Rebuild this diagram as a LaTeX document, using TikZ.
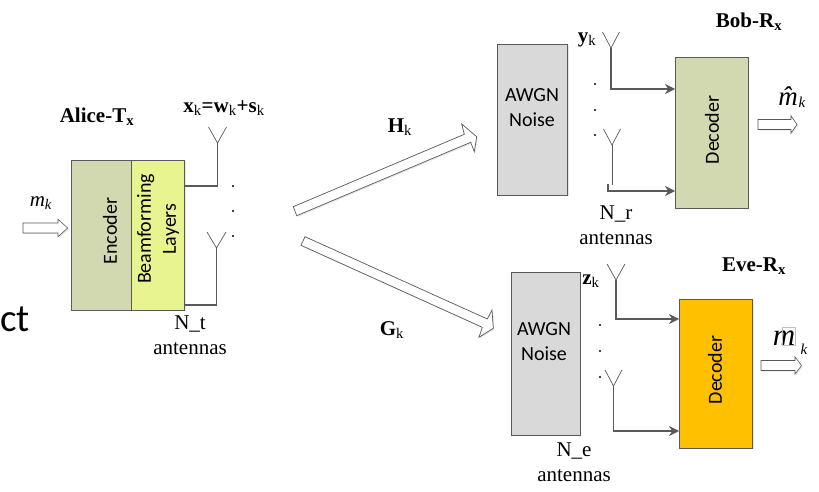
\documentclass[tikz,border=0pt]{standalone}
\usepackage{amsmath,amssymb}
\usepackage{fontspec}
\setmainfont{Liberation Serif}
\newfontfamily\boxfont{Carlito}
\usetikzlibrary{shadows,arrows.meta}
\definecolor{olivebox}{HTML}{D2D8B0}
\definecolor{yellowbox}{HTML}{E8F48F}
\definecolor{greybox}{HTML}{D9D9D9}
\definecolor{orangebox}{HTML}{FFC000}
\definecolor{edgegrey}{HTML}{595959}
\begin{document}
\begin{tikzpicture}[x=1pt,y=-1pt,
    txt/.style={font=\fontsize{21}{24}\selectfont,inner sep=0pt,align=center},
    boxtxt/.style={font=\boxfont\fontsize{20}{25}\selectfont,inner sep=0pt,align=center},
    block/.style={draw=edgegrey,line width=0.9pt,inner sep=0pt,outer sep=0pt,
      drop shadow={shadow xshift=1.2pt,shadow yshift=-1.2pt,opacity=0.2}},
    wire/.style={draw=edgegrey,line width=1.1pt},
    arrowin/.style={wire,-{Stealth[length=10pt,width=10pt]}},
    aerial/.style={draw=edgegrey,line width=0.7pt},
    fat/.style={draw=edgegrey,fill=white,line width=0.7pt,
      drop shadow={shadow xshift=1.2pt,shadow yshift=-1.2pt,opacity=0.2}}]
  \useasboundingbox (0,0) rectangle (819,492);
  % transmitter
  \node[block,fill=olivebox,minimum width=59.5pt,minimum height=150pt] (enc) at (101.25,235) {};
  \node[block,fill=yellowbox,minimum width=53.5pt,minimum height=150pt] (beam) at (157.75,235) {};
  \node[boxtxt,rotate=90] (enctxt) at (110,231) {Encoder};
  \node[boxtxt,rotate=90] (beamtxt) at (158,229) {Beamforming\\Layers};
  % receivers
  \node[block,fill=greybox,minimum width=70pt,minimum height=151pt] (bobnoise) at (532.5,119.5) {};
  \node[boxtxt] (bobnoisetxt) at (532,108) {AWGN\\Noise};
  \node[block,fill=olivebox,minimum width=73pt,minimum height=151pt] (bobdec) at (711.5,132.5) {};
  \node[boxtxt,rotate=90] (bobdectxt) at (712,130) {Decoder};
  \node[block,fill=greybox,minimum width=69pt,minimum height=163pt] (evenoise) at (545.5,353.5) {};
  \node[boxtxt] (evenoisetxt) at (544,341.5) {AWGN\\Noise};
  \node[block,fill=orangebox,minimum width=73.5pt,minimum height=149pt] (evedec) at (715.75,373.5) {};
  \node[boxtxt,rotate=90] (evedectxt) at (715,370) {Decoder};
  % aerials
  \foreach \name/\x/\y/\w in {txa/217.5/143/9,txb/216.5/248/9.5,boba/611/48/8.5,bobb/612/145/8.5,evea/616/280/9,eveb/613.5/386/8.5} {
    \coordinate (\name) at (\x,\y);
    \draw[aerial] (\x-\w,\y-16) -- (\name) -- (\x+\w,\y-16);
  }
  \coordinate (txaout) at (beam.east |- 0,186);
  \coordinate (txbout) at (beam.east |- 0,305);
  \coordinate (bobain) at (bobdec.west |- 0,89);
  \coordinate (bobbend) at (608,184);
  \coordinate (bobbstem) at (612,185);
  \coordinate (bobbin) at (bobdec.west |- 0,191);
  \coordinate (evein) at (evedec.west |- 0,319);
  \coordinate (evebin) at (evedec.west |- 0,431);
  \draw[wire] (txa) |- (txaout);
  \draw[wire] (txb) |- (txbout);
  \draw[arrowin] (boba) |- (bobain);
  \draw[aerial] (bobb) -- (bobbstem);
  \draw[arrowin] (bobbend) |- (bobbin);
  \draw[arrowin] (evea) |- (evein);
  \draw[arrowin] (eveb) |- (evebin);
  % dots
  \foreach \x/\y in {233/186,233/211,233/236,595/84,595/110,595/135,600/325,600/351,600/377}
    \fill[black] (\x,\y) circle (1.1);
  % wide arrows
  \draw[fat] (293.3,206.7) -- (464.3,134.3) -- (461.7,124) -- (476.7,136.7) -- (474.3,151.7) -- (470.7,142.3) -- (296.7,215.7) -- cycle;
  \draw[fat] (305,236.7) -- (487.3,319) -- (492,310) -- (493.3,328.3) -- (479,337.3) -- (482.3,327.3) -- (301,245.3) -- cycle;
  % small arrows
  \foreach \xa/\xb/\xc/\y in {23/58/67.7/228,758/791/797/124.5,761/795/801.5/365.5}
    \draw[fat,line width=0.6pt] (\xa,\y-5) -- (\xb,\y-5) -- (\xb,\y-8.7) -- (\xc,\y) -- (\xb,\y+8.7) -- (\xb,\y+5) -- (\xa,\y+5) -- cycle;
  % labels
  \node[txt] (alice) at (97,117) {\textbf{Alice-T\textsubscript{x}}};
  \node[txt] (xk) at (224,108) {\textbf{x}\textsubscript{k}\textbf{=w}\textsubscript{k}\textbf{+s}\textsubscript{k}};
  \node[txt] (hk) at (400,127) {\textbf{H}\textsubscript{k}};
  \node[txt] (gk) at (392,330) {\textbf{G}\textsubscript{k}};
  \node[txt] (mk) at (41,203) {\textit{m}\textsubscript{\textit{k}}};
  \node[txt] (nt) at (190,335) {N\_t\\[1pt]antennas};
  \node[txt] (yk) at (587,40) {\textbf{y}\textsubscript{k}};
  \node[txt] (nr) at (616,225.5) {N\_r\\[1pt]antennas};
  \node[txt] (bob) at (749,22) {\textbf{Bob-R\textsubscript{x}}};
  \node[txt,font=\fontsize{27}{27}\selectfont\itshape] (mhat) at (788,96) {m̂};
  \node[txt,font=\fontsize{15}{15}\selectfont\itshape] (khat) at (802,102) {k};
  \node[txt] (zk) at (591,281) {\textbf{z}\textsubscript{k}};
  \node[txt] (ne) at (574,462.5) {N\_e\\[1pt]antennas};
  \node[txt] (eve) at (754,266) {\textbf{Eve-R\textsubscript{x}}};
  \node[txt,font=\fontsize{31}{31}\selectfont\itshape] (mbar) at (784,338) {m};
  \node[draw=black!25,line width=0.5pt,minimum width=13pt,minimum height=18pt,inner sep=0pt] (glyph) at (789,336) {};
  \node[txt,font=\fontsize{15}{15}\selectfont\itshape] (kbar) at (804,349) {k};
  \node[font=\fontsize{39}{39}\selectfont\fontspec{Carlito},inner sep=0pt,anchor=base west] (ct) at (0,331) {ct};
\end{tikzpicture}
\end{document}
